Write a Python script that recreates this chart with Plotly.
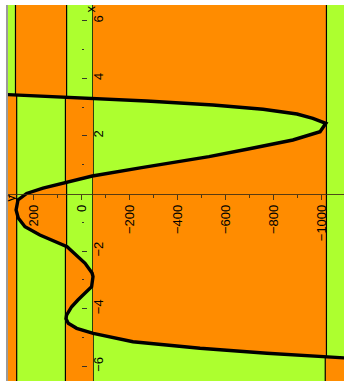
import plotly.graph_objects as go

# ---- data (picture is the plot rotated 90 degrees CCW) ----
# t: the "x" variable (vertical in the picture), fval: curve value (horizontal in the picture)
T_VALS = [-5.885, -5.722, -5.549, -5.375, -5.146, -4.854, -4.681, -4.507, -4.35, -4.219,
          -3.931, -3.698, -3.465, -3.236, -2.889, -2.76, -2.424, -1.847, -1.441, -1.153,
          -0.851, -0.573, -0.226, 0.0, 0.19, 0.375, 0.608, 0.899, 1.278, 1.535,
          1.858, 2.146, 2.299, 2.438, 2.611, 2.76, 2.924, 3.073, 3.212, 3.306,
          3.37, 3.43, 3.48, 3.53]
F_VALS = [-1449, -1091, -771, -493, -214, -49, 20, 55, 64.4, 62,
          41, 15, -15, -42, -47.8, -44, -15, 60, 173, 235,
          263, 272, 264, 228, 160, 68, -45, -250, -530, -688,
          -879, -992, -1006, -1016, -962, -896, -755, -547, -271, -49,
          110, 270, 410, 560]

# critical values (band boundaries)
CRIT = [272, 64.4, -47.8, -1016]
CRIT_WIDTH = [2.4, 2.4, 1.5, 2.4]

VAL_RANGE = [305.6, -1091.5]
T_RANGE = [-6.51, 6.545]

VAL_TICKS = [200, 0, -200, -400, -600, -800, -1000]
VAL_TICKTEXT = ["200", "0", "\u2212200", "\u2212400", "\u2212600", "\u2212800", "\u22121000"]
VAL_MINOR = [300, 100, -100, -300, -500, -700, -900]
T_TICKS = [-6, -4, -2, 2, 4, 6]
T_TICKTEXT = ["\u22126", "\u22124", "\u22122", "2", "4", "6"]
T_MINOR = [-5, -3, -1, 1, 3, 5]

GREEN = "#ADFF2F"
ORANGE = "#FF8C00"
FONT = "Liberation Sans, Arial, Helvetica, sans-serif"

# ---- region path: (odd bands) XOR (value > curve), drawn with even-odd rule ----
BIG = 3000
TLO, THI = -8, 8
pts = [(BIG, TLO), (-BIG, TLO), (-BIG, T_VALS[0])]
pts += list(zip(F_VALS, T_VALS))
pts += [(BIG, T_VALS[-1])]
path = "M " + " L ".join(f"{v},{t}" for v, t in pts) + " Z"
for hi, lo in [(CRIT[0], CRIT[1]), (CRIT[2], CRIT[3])]:
    path += f" M {hi},{TLO} L {lo},{TLO} L {lo},{THI} L {hi},{THI} Z"

shapes = [dict(type="path", path=path, xref="x", yref="y", fillcolor=ORANGE,
               line=dict(width=0), fillrule="evenodd", layer="below")]
for c, w in zip(CRIT, CRIT_WIDTH):
    shapes.append(dict(type="line", xref="x", yref="paper", x0=c, x1=c, y0=0, y1=1,
                       line=dict(color="black", width=w), layer="below"))
# grey frame edge at the left
shapes.append(dict(type="line", xref="paper", yref="paper", x0=-0.003, x1=-0.003,
                   y0=0, y1=1, line=dict(color="#9a9a9a", width=2)))

fig = go.Figure()
fig.add_trace(go.Scatter(x=F_VALS, y=T_VALS, mode="lines",
                         line=dict(color="black", width=3.4), hoverinfo="skip",
                         showlegend=False))

pos_x = (0 - T_RANGE[0]) / (T_RANGE[1] - T_RANGE[0])
pos_y = (VAL_RANGE[0] - 0) / (VAL_RANGE[0] - VAL_RANGE[1])

fig.update_layout(
    width=344, height=381, autosize=False,
    margin=dict(l=8, r=0, t=5, b=0, pad=0),
    paper_bgcolor="white", plot_bgcolor=GREEN,
    showlegend=False,
    font=dict(family=FONT, size=13, color="black"),
    shapes=shapes,
    xaxis=dict(range=VAL_RANGE, anchor="free", position=pos_x,
               showgrid=False, zeroline=False, showline=True,
               linecolor="rgba(60,45,20,0.85)", linewidth=1,
               ticks="outside", ticklen=5, tickcolor="rgba(60,45,20,0.9)", tickwidth=1,
               tickvals=VAL_TICKS, ticktext=VAL_TICKTEXT, tickangle=-90,
               tickfont=dict(family=FONT, size=13, color="black"),
               minor=dict(tickvals=VAL_MINOR, ticks="outside", ticklen=3,
                          tickcolor="rgba(60,45,20,0.9)", showgrid=False)),
    yaxis=dict(range=T_RANGE, anchor="free", position=pos_y, side="right",
               showgrid=False, zeroline=False, showline=False,
               ticks="outside", ticklen=5, tickcolor="rgba(40,40,40,0.9)", tickwidth=1,
               tickvals=T_TICKS, ticktext=T_TICKTEXT, tickangle=-90,
               tickfont=dict(family=FONT, size=13, color="black"),
               minor=dict(tickvals=T_MINOR, ticks="outside", ticklen=2,
                          tickcolor="rgba(40,40,40,0.9)", showgrid=False)),
    annotations=[
        dict(x=0, y=T_RANGE[1], xref="x", yref="y", text="x", showarrow=False,
             textangle=-90, xshift=8, yshift=-4, font=dict(family=FONT, size=13)),
        dict(x=VAL_RANGE[0], y=0, xref="x", yref="y", text="y", showarrow=False,
             textangle=-90, xshift=2, yshift=-5, font=dict(family=FONT, size=13)),
    ],
)

fig.write_html("out.html", config={"displayModeBar": False})
